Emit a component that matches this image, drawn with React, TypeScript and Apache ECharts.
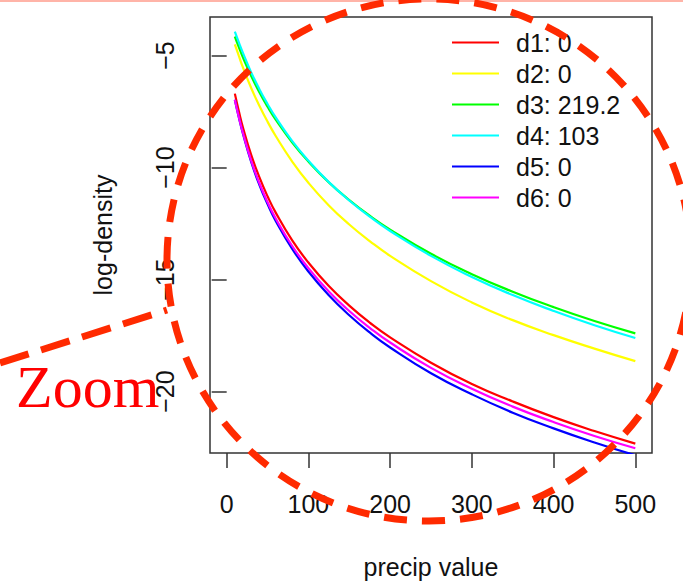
import React, { useEffect, useRef } from "react";
import * as echarts from "echarts";

const xTicks = [0, 100, 200, 300, 400, 500];
const yTicks = [-20, -15, -10, -5];
const xs = [10, 15, 20, 30, 40, 50, 60, 80, 100, 125, 150, 175, 200, 250, 300, 350, 400, 450, 500];

const seriesNames = ["d1: 0", "d2: 0", "d3: 219.2", "d4: 103", "d5: 0", "d6: 0"];
const seriesColors = ["#ff0000", "#ffff00", "#00ff00", "#00ffff", "#0000ff", "#ff00ff"];

const d1 = [-6.7, -7.5, -8.22, -9.43, -10.43, -11.28, -12.01, -13.24, -14.24, -15.29, -16.16, -16.92, -17.58, -18.71, -19.66, -20.44, -21.14, -21.76, -22.32];
const d2 = [-4.5, -5.03, -5.54, -6.45, -7.24, -7.95, -8.59, -9.72, -10.68, -11.69, -12.54, -13.28, -13.94, -15.07, -16.02, -16.81, -17.48, -18.08, -18.64];
const d3 = [-4.15, -4.63, -5.09, -5.91, -6.64, -7.28, -7.86, -8.87, -9.73, -10.66, -11.45, -12.15, -12.77, -13.85, -14.76, -15.54, -16.23, -16.85, -17.4];
const d4 = [-3.93, -4.42, -4.89, -5.75, -6.5, -7.16, -7.76, -8.81, -9.69, -10.65, -11.47, -12.19, -12.83, -13.94, -14.88, -15.69, -16.4, -17.04, -17.61];
const d5 = [-6.97, -7.78, -8.5, -9.75, -10.77, -11.63, -12.38, -13.62, -14.64, -15.7, -16.59, -17.36, -18.03, -19.18, -20.12, -20.94, -21.64, -22.27, -22.84];
const d6 = [-6.97, -7.76, -8.47, -9.69, -10.69, -11.54, -12.27, -13.49, -14.49, -15.53, -16.4, -17.15, -17.81, -18.94, -19.87, -20.67, -21.36, -21.98, -22.53];

const allSeries = [d1, d2, d3, d4, d5, d6];

export default function App() {
  const ref = useRef<HTMLDivElement>(null);
  useEffect(() => {
    if (!ref.current) return;
    const chart = echarts.init(ref.current, null, { renderer: "svg" });
    const font = "'Liberation Sans', Arial, Helvetica, sans-serif";
    chart.setOption({
      animation: false,
      backgroundColor: "#ffffff",
      grid: {
        left: 210,
        top: 17,
        width: 442,
        height: 442,
        show: true,
        borderColor: "#333333",
        borderWidth: 1.5,
        backgroundColor: "transparent",
      },
      legend: {
        orient: "vertical",
        left: 446,
        top: 22,
        itemWidth: 47,
        itemHeight: 31,
        itemGap: 0,
        data: seriesNames,
        itemStyle: { opacity: 0 },
        lineStyle: { width: 2 },
        textStyle: {
          fontFamily: font,
          fontSize: 25,
          color: "#111111",
          lineHeight: 31,
          padding: [0, 0, 0, 12],
        },
      },
      xAxis: {
        type: "value",
        min: -20.4,
        max: 520.4,
        name: "precip value",
        nameLocation: "middle",
        nameGap: 101,
        nameTextStyle: { fontFamily: font, fontSize: 25, color: "#111111" },
        axisLine: { show: false },
        splitLine: { show: false },
        axisTick: {
          show: true,
          inside: false,
          length: 15,
          customValues: xTicks,
          lineStyle: { color: "#333333", width: 1.5 },
        },
        axisLabel: {
          customValues: xTicks,
          margin: 38,
          fontFamily: font,
          fontSize: 25,
          color: "#111111",
        },
      },
      yAxis: {
        type: "value",
        min: -22.74,
        max: -3.28,
        name: "log-density",
        nameLocation: "middle",
        nameRotate: 90,
        nameGap: 95,
        nameTextStyle: { fontFamily: font, fontSize: 25, color: "#111111" },
        axisLine: { show: false },
        splitLine: { show: false },
        axisTick: {
          show: true,
          inside: false,
          length: 15,
          customValues: yTicks,
          lineStyle: { color: "#333333", width: 1.5 },
        },
        axisLabel: {
          customValues: yTicks,
          rotate: 90,
          margin: 33,
          fontFamily: font,
          fontSize: 25,
          color: "#111111",
          formatter: (v: number) => String(v).replace("-", "\u2212"),
        },
      },
      series: allSeries.map((vals, i) => ({
        type: "line",
        name: seriesNames[i],
        data: xs.map((x, j) => [x, vals[j]]),
        smooth: 0.5,
        symbol: "none",
        showSymbol: false,
        clip: true,
        lineStyle: { color: seriesColors[i], width: 2.2 },
        itemStyle: { color: seriesColors[i] },
      })),
      graphic: [
        {
          type: "rect",
          shape: { x: 0, y: 0, width: 683, height: 2 },
          style: { fill: "#ffb4a8" },
          z: 100,
        },
        {
          type: "text",
          x: 16,
          y: 387,
          style: {
            text: "Zoom",
            fill: "#ff0000",
            font: "60px 'Liberation Serif', 'Times New Roman', serif",
            verticalAlign: "middle",
          },
          z: 100,
        },
        {
          type: "ellipse",
          shape: { cx: 429, cy: 260, rx: 262, ry: 261 },
          style: { fill: "none", stroke: "#ff2a00", lineWidth: 7, lineDash: [23, 15] },
          z: 101,
        },
        {
          type: "line",
          shape: { x1: 0, y1: 363, x2: 167, y2: 310 },
          style: { stroke: "#ff2a00", lineWidth: 7, lineDash: [30, 13] },
          z: 101,
        },
      ],
    });
    return () => chart.dispose();
  }, []);
  return (
    <div
      ref={ref}
      style={{ position: "absolute", left: 0, top: 0, width: 683, height: 584 }}
    />
  );
}
